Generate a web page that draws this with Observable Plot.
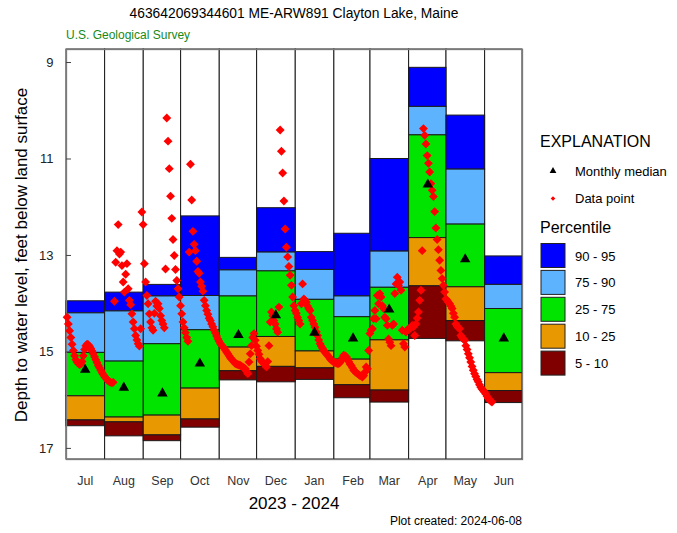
<!DOCTYPE html>
<html><head><meta charset="utf-8">
<script src="https://cdn.jsdelivr.net/npm/d3@7"></script>
<script src="https://cdn.jsdelivr.net/npm/@observablehq/plot@0.6"></script>
<style>
body{margin:0;background:#fff;}
svg{font-family:"Liberation Sans",Arial,sans-serif;}
</style>
</head><body><div id="chart"></div>
<script>
// ---- data ----
const monthLabels = ["Jul","Aug","Sep","Oct","Nov","Dec","Jan","Feb","Mar","Apr","May","Jun"];
// percentile depths (feet below land surface) per month
const p95 = [13.95,13.77,13.61,12.19,13.05,12.02,12.93,12.55,11.00, 9.11,10.10,13.02];
const p90 = [14.20,14.16,13.85,13.84,13.31,12.94,13.30,13.85,12.92, 9.92,11.22,13.61];
const p75 = [15.02,15.20,14.84,14.55,13.85,13.33,13.92,14.28,13.67,10.51,12.36,14.11];
const p25 = [15.92,16.36,16.32,15.76,14.91,14.69,14.99,15.16,14.76,12.64,13.66,15.44];
const p10 = [16.42,16.46,16.73,16.40,15.40,15.31,15.34,15.69,15.80,13.64,14.36,15.81];
const p5  = [16.54,16.75,16.85,16.57,15.59,15.63,15.58,15.96,16.05,14.73,14.78,16.06];
const medians = [15.37,15.74,15.86,15.24,14.65,14.24,14.60,14.72,14.12,11.53,13.08,14.72];
const yTicks = [9,11,13,15,17];

// daily data points, one value per day of month (2023-07-01 onward)
const jul = [14.28,14.42,14.56,14.70,14.84,14.97,15.08,15.16,15.21,15.24,15.26,15.25,15.20,15.08,14.95,14.87,14.84,14.85,14.88,14.93,14.98,15.04,15.10,15.16,15.22,15.28,15.33,15.38,15.43,15.47,15.51];
const aug = [15.54,15.57,15.60,15.62,15.63,15.64,15.63,13.95,13.14,12.90,12.36,12.97,12.93,13.21,13.55,13.76,13.39,13.17,13.69,13.93,14.02,14.21,14.38,14.52,14.66,14.75,14.83,14.88,14.52,12.10,12.36];
const sep = [13.17,13.55,13.83,14.00,14.21,14.38,14.50,14.55,14.20,13.95,14.05,14.00,14.10,14.25,14.35,14.42,14.50,13.28,10.15,10.63,11.20,11.77,12.23,12.67,13.00,13.29,13.52,13.69,13.86,14.04];
const oct = [14.21,14.38,14.50,14.60,14.70,14.78,12.93,11.11,11.85,12.50,12.77,12.90,13.12,13.33,13.37,13.55,13.64,13.74,13.93,14.04,14.14,14.22,14.30,14.35,14.42,14.48,14.55,14.61,14.67,14.73,14.78];
const nov = [14.83,14.86,14.89,14.92,14.96,15.00,15.04,15.08,15.12,15.15,15.18,15.21,15.24,15.25,15.26,15.27,15.28,15.30,15.31,15.33,15.35,15.40,15.45,15.21,15.04,14.87,14.70,14.62,14.76,14.88];
const dec = [14.97,15.05,15.14,15.19,15.22,15.24,15.28,15.31,15.20,14.87,14.38,14.17,14.25,14.35,14.42,14.52,14.59,14.07,10.40,10.84,11.29,11.87,12.45,12.83,13.03,13.23,13.41,13.62,13.86,14.04,14.14];
const jan = [14.20,14.28,14.35,14.42,14.00,13.59,13.90,13.93,13.97,14.05,14.10,14.14,14.28,14.35,14.42,14.49,14.58,14.66,14.75,14.83,14.88,14.93,14.97,15.01,15.04,15.07,15.10,15.14,15.17,15.19,15.21];
const feb = [15.22,15.23,15.24,15.24,15.22,15.18,15.12,15.07,15.08,15.10,15.14,15.20,15.25,15.28,15.33,15.38,15.40,15.43,15.45,15.47,15.49,15.50,15.52,15.49,15.42,15.31,15.35,14.97,14.62];
const mar = [14.55,14.52,14.31,14.14,14.31,13.83,14.00,13.79,13.86,14.04,14.10,14.28,14.31,14.45,14.73,14.80,14.87,14.45,14.42,13.79,13.59,13.45,13.62,13.55,13.72,14.55,14.83,14.90,14.59,14.55,14.52];
const apr = [14.52,14.50,14.45,14.48,14.66,14.42,14.30,14.17,13.93,13.72,12.90,10.37,10.51,10.69,10.93,11.09,11.27,11.51,11.65,11.78,12.09,12.43,12.67,12.88,13.10,13.31,13.48,13.62,13.76,13.90];
const may = [13.93,13.97,14.00,14.05,14.10,14.20,14.28,14.42,14.46,14.50,14.52,14.66,14.70,14.73,14.76,14.87,14.95,15.04,15.12,15.21,15.30,15.38,15.45,15.51,15.57,15.62,15.68,15.73,15.77,15.80,15.83];
const jun = [15.87,15.92,15.96,15.99,16.02,16.04];

const bandNames  = ["90 - 95","75 - 90","25 - 75","10 - 25","5 - 10"];
const bandColors = ["#0000FF","#5EB3FF","#00E400","#E89800","#800000"];

// ---- derived tables ----
const months = monthLabels.map((label, i) => ({
  label,
  start: new Date(2023, 6 + i, 1),
  end: new Date(2023, 7 + i, 1),
  mid: new Date(2023, 6 + i, 16),
  median: medians[i]
}));
const bounds = [p95, p90, p75, p25, p10, p5];
const bandRows = [];
months.forEach((m, i) => {
  bandNames.forEach((name, b) => {
    bandRows.push({start: m.start, end: m.end, top: bounds[b][i], bottom: bounds[b + 1][i], color: bandColors[b]});
  });
});
const monthly = [jul, aug, sep, oct, nov, dec, jan, feb, mar, apr, may, jun];
const points = monthly.flatMap((arr, i) => arr.map((v, j) => ({date: new Date(2023, 6 + i, j + 1, 12), depth: v})));

const yDomain = [8.73, 17.23];
const xDomain = [new Date(2023, 6, 1), new Date(2024, 6, 1)];

const chart = Plot.plot({
  width: 677, height: 533,
  marginLeft: 66, marginRight: 155, marginTop: 49, marginBottom: 74,
  x: {domain: xDomain, axis: null},
  y: {domain: yDomain, reverse: true, axis: null},
  color: {type: "identity"},
  style: {fontFamily: "Liberation Sans, Arial, sans-serif", fontSize: "13px", color: "#222", background: "white"},
  marks: [
    Plot.rect(months, {x1: "start", x2: "end", y1: yDomain[0], y2: yDomain[1], fill: "white", stroke: "#1a1a1a", strokeWidth: 1}),
    Plot.rect(bandRows, {x1: "start", x2: "end", y1: "top", y2: "bottom", fill: "color", stroke: "#1a1a1a", strokeWidth: 1}),
    Plot.frame({stroke: "#7a7a7a", strokeWidth: 1.3}),
    Plot.tickY(yTicks, {y: d => d, insetRight: 451, stroke: "#444"}),
    Plot.axisY(yTicks, {anchor: "left", tickSize: 0, tickPadding: 13, fontSize: 13, label: null}),
    Plot.dot(points, {x: "date", y: "depth", symbol: "diamond2", fill: "#FF0000", r: 4}),
    Plot.dot(months, {x: "mid", y: "median", symbol: "triangle", fill: "black", r: 3.9}),
    Plot.text(months, {x: "mid", text: "label", frameAnchor: "bottom", dy: 21, lineAnchor: "middle", fontSize: 12.5, fill: "#333"})
  ]
});
document.getElementById("chart").appendChild(chart);

// ---- titles & legend ----
const svg = d3.select(chart);
const g = svg.append("g").attr("font-family", "Liberation Sans, Arial, sans-serif").attr("fill", "#000").attr("text-anchor", "start");
g.append("text").attr("x", 294).attr("y", 18).attr("text-anchor", "middle").attr("font-size", 13.8)
  .text("463642069344601 ME-ARW891 Clayton Lake, Maine");
g.append("text").attr("x", 66).attr("y", 38.5).attr("font-size", 12).attr("fill", "#178a17")
  .text("U.S. Geological Survey");
g.append("text").attr("transform", "translate(27,255) rotate(-90)").attr("text-anchor", "middle").attr("font-size", 17)
  .text("Depth to water level, feet below land surface");
g.append("text").attr("x", 294).attr("y", 509).attr("text-anchor", "middle").attr("font-size", 17)
  .text("2023 - 2024");
g.append("text").attr("x", 522).attr("y", 525).attr("text-anchor", "end").attr("font-size", 12)
  .text("Plot created: 2024-06-08");

g.append("text").attr("x", 540).attr("y", 147).attr("font-size", 16).text("EXPLANATION");
g.append("path").attr("d", d3.symbol(d3.symbolTriangle, 20)()).attr("transform", "translate(553,171)").attr("fill", "black");
g.append("text").attr("x", 575).attr("y", 175.5).attr("font-size", 13).text("Monthly median");
g.append("path").attr("d", d3.symbol(d3.symbolDiamond2, 14)()).attr("transform", "translate(553,198.5)").attr("fill", "#FF0000");
g.append("text").attr("x", 575).attr("y", 203).attr("font-size", 13).text("Data point");
g.append("text").attr("x", 540).attr("y", 233).attr("font-size", 16).text("Percentile");
bandNames.forEach((name, i) => {
  g.append("rect").attr("x", 541).attr("y", 243.5 + i * 26.9).attr("width", 24).attr("height", 24)
    .attr("fill", bandColors[i]).attr("stroke", "#222");
  g.append("text").attr("x", 575).attr("y", 260.5 + i * 26.9).attr("font-size", 13).text(name);
});
</script>
</body></html>
